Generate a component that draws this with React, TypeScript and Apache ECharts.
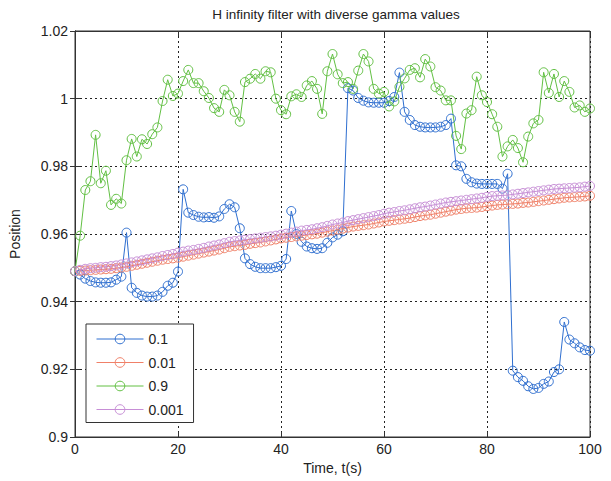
import React, { useEffect, useRef } from "react";
import * as echarts from "echarts";

const chartTitle = "H infinity filter with diverse gamma values";
const xName = "Time, t(s)";
const yName = "Position";
const seriesNames = ["0.1", "0.01", "0.9", "0.001"];
const seriesColors = ["#2f6fd0", "#f08068", "#62c043", "#c78ed6"];

const gamma01 = [
  0.9490, 0.9480, 0.9468, 0.9461, 0.9457, 0.9456, 0.9456, 0.9457, 0.9465, 0.9474, 0.9604,
  0.9441, 0.9426, 0.9418, 0.9415, 0.9415, 0.9418, 0.9429, 0.9447, 0.9456, 0.9489,
  0.9732, 0.9663, 0.9656, 0.9651, 0.9649, 0.9650, 0.9648, 0.9652, 0.9674, 0.9688,
  0.9679, 0.9617, 0.9528, 0.9511, 0.9503, 0.9499, 0.9499, 0.9499, 0.9502, 0.9506,
  0.9526, 0.9668, 0.9600, 0.9577, 0.9563, 0.9558, 0.9556, 0.9558, 0.9574, 0.9590,
  0.9598, 0.9608, 1.0031, 1.0024, 1.0002, 0.9994, 0.9989, 0.9988, 0.9988, 0.9988,
  0.9993, 1.0005, 1.0077, 0.9961, 0.9937, 0.9922, 0.9917, 0.9915, 0.9915, 0.9915,
  0.9917, 0.9922, 0.9941, 0.9803, 0.9800, 0.9763, 0.9753, 0.9749, 0.9748, 0.9748,
  0.9748, 0.9748, 0.9734, 0.9778, 0.9196, 0.9177, 0.9166, 0.9150, 0.9142, 0.9145,
  0.9157, 0.9164, 0.9192, 0.9200, 0.9340, 0.9288, 0.9277, 0.9265, 0.9257, 0.9255,
];

const gamma001 = [
  0.9490, 0.9491, 0.9492, 0.9493, 0.9494, 0.9495, 0.9496, 0.9497, 0.9499, 0.9501, 0.9503,
  0.9506, 0.9509, 0.9512, 0.9515, 0.9518, 0.9521, 0.9524, 0.9526, 0.9528, 0.9530,
  0.9533, 0.9536, 0.9539, 0.9542, 0.9545, 0.9548, 0.9551, 0.9554, 0.9558, 0.9562,
  0.9564, 0.9566, 0.9568, 0.9571, 0.9573, 0.9575, 0.9578, 0.9581, 0.9584, 0.9587,
  0.9589, 0.9591, 0.9593, 0.9595, 0.9597, 0.9599, 0.9601, 0.9604, 0.9607, 0.9610,
  0.9613, 0.9616, 0.9619, 0.9622, 0.9624, 0.9626, 0.9628, 0.9631, 0.9634, 0.9637,
  0.9639, 0.9641, 0.9643, 0.9645, 0.9647, 0.9650, 0.9653, 0.9655, 0.9657, 0.9660,
  0.9663, 0.9666, 0.9669, 0.9672, 0.9674, 0.9676, 0.9677, 0.9678, 0.9680, 0.9682,
  0.9684, 0.9686, 0.9687, 0.9688, 0.9689, 0.9690, 0.9692, 0.9693, 0.9695, 0.9697,
  0.9699, 0.9701, 0.9703, 0.9705, 0.9707, 0.9708, 0.9709, 0.9710, 0.9711, 0.9713,
];

const gamma09 = [
  0.9490, 0.9595, 0.9730, 0.9756, 0.9893, 0.9750, 0.9787, 0.9686, 0.9704, 0.9690, 0.9818,
  0.9881, 0.9829, 0.9880, 0.9866, 0.9895, 0.9915, 0.9993, 1.0056, 1.0008, 1.0015,
  1.0052, 1.0085, 1.0046, 1.0046, 1.0022, 1.0002, 0.9972, 0.9961, 1.0026, 1.0010,
  0.9961, 0.9932, 1.0049, 1.0059, 1.0073, 1.0059, 1.0081, 1.0078, 1.0000, 0.9966,
  0.9954, 1.0007, 1.0013, 1.0005, 1.0039, 1.0052, 1.0029, 0.9955, 1.0081, 1.0132,
  1.0072, 1.0046, 1.0049, 1.0029, 1.0083, 1.0132, 1.0110, 1.0029, 1.0015, 1.0020,
  0.9977, 0.9992, 1.0035, 1.0060, 1.0085, 1.0090, 1.0063, 1.0117, 1.0095, 1.0034,
  1.0024, 0.9995, 0.9995, 0.9890, 0.9851, 0.9956, 0.9966, 1.0065, 1.0010, 0.9990,
  0.9954, 0.9917, 0.9829, 0.9859, 0.9878, 0.9854, 0.9812, 0.9888, 0.9927, 0.9937,
  1.0078, 1.0017, 1.0073, 1.0005, 1.0052, 1.0020, 0.9974, 0.9980, 0.9961, 0.9971,
];

const gamma0001 = [
  0.9490, 0.9494, 0.9497, 0.9499, 0.9500, 0.9502, 0.9503, 0.9505, 0.9507, 0.9510, 0.9513,
  0.9516, 0.9519, 0.9522, 0.9525, 0.9528, 0.9531, 0.9535, 0.9538, 0.9541, 0.9545,
  0.9548, 0.9551, 0.9553, 0.9556, 0.9559, 0.9563, 0.9566, 0.9569, 0.9573, 0.9577,
  0.9579, 0.9581, 0.9583, 0.9585, 0.9587, 0.9589, 0.9591, 0.9593, 0.9595, 0.9598,
  0.9601, 0.9604, 0.9607, 0.9610, 0.9612, 0.9614, 0.9617, 0.9620, 0.9624, 0.9628,
  0.9631, 0.9634, 0.9638, 0.9641, 0.9644, 0.9647, 0.9650, 0.9653, 0.9656, 0.9660,
  0.9663, 0.9665, 0.9668, 0.9670, 0.9673, 0.9676, 0.9679, 0.9681, 0.9684, 0.9687,
  0.9690, 0.9693, 0.9695, 0.9697, 0.9699, 0.9701, 0.9703, 0.9705, 0.9707, 0.9710,
  0.9712, 0.9713, 0.9714, 0.9715, 0.9717, 0.9719, 0.9721, 0.9723, 0.9725, 0.9727,
  0.9729, 0.9731, 0.9733, 0.9734, 0.9735, 0.9736, 0.9737, 0.9738, 0.9740, 0.9742,
];

const xMin = 0;
const xMax = 100;
const xStep = 20;
const yMin = 0.9;
const yMax = 1.02;
const yStep = 0.02;

const FONT = "'Liberation Sans', Arial, sans-serif";
const AXIS_COLOR = "#333";

export default function App() {
  const ref = useRef<HTMLDivElement>(null);

  useEffect(() => {
    if (!ref.current) return;
    const chart = echarts.init(ref.current, null, { renderer: "svg" });
    const allData = [gamma01, gamma001, gamma09, gamma0001];

    const gridLine = {
      show: true,
      lineStyle: { color: "#222", width: 1, type: [2, 3] as any },
    };

    const fmtY = (v: number) => String(Number(v.toFixed(2)));

    chart.setOption({
      animation: false,
      backgroundColor: "#ffffff",
      title: {
        text: chartTitle,
        left: 331,
        textAlign: "center",
        top: 2,
        textStyle: { fontFamily: FONT, fontSize: 13.5, fontWeight: "normal", color: "#222" },
      },
      legend: {
        orient: "vertical",
        left: 86,
        top: 324,
        data: seriesNames,
        itemWidth: 47,
        itemHeight: 12,
        itemGap: 9.5,
        padding: [8, 10, 6, 10],
        borderColor: "#333",
        borderWidth: 1,
        backgroundColor: "#fff",
        lineStyle: { width: 1 },
        itemStyle: { borderWidth: 1 },
        textStyle: { fontFamily: FONT, fontSize: 14, color: "#222" },
      },
      grid: {
        left: 73,
        right: 21,
        top: 31,
        bottom: 44,
        show: true,
        borderColor: AXIS_COLOR,
        borderWidth: 1,
        backgroundColor: "#fff",
      },
      xAxis: [
        {
          type: "value",
          min: xMin,
          max: xMax,
          interval: xStep,
          name: xName,
          nameLocation: "middle",
          nameGap: 24,
          nameTextStyle: { fontFamily: FONT, fontSize: 14, color: "#222" },
          axisLine: { show: true, lineStyle: { color: AXIS_COLOR } },
          axisTick: { show: true, inside: true, length: 5, lineStyle: { color: AXIS_COLOR } },
          axisLabel: { fontFamily: FONT, fontSize: 14, color: "#222", margin: 5 },
          splitLine: gridLine,
        },
        {
          type: "value",
          position: "top",
          min: xMin,
          max: xMax,
          interval: xStep,
          axisLine: { show: true, lineStyle: { color: AXIS_COLOR } },
          axisTick: { show: true, inside: true, length: 5, lineStyle: { color: AXIS_COLOR } },
          axisLabel: { show: false },
          splitLine: { show: false },
        },
      ],
      yAxis: [
        {
          type: "value",
          min: yMin,
          max: yMax,
          interval: yStep,
          name: yName,
          nameLocation: "middle",
          nameGap: 53,
          nameTextStyle: { fontFamily: FONT, fontSize: 14, color: "#222" },
          axisLine: { show: true, lineStyle: { color: AXIS_COLOR } },
          axisTick: { show: true, inside: true, length: 5, lineStyle: { color: AXIS_COLOR } },
          axisLabel: { fontFamily: FONT, fontSize: 14, color: "#222", margin: 7, formatter: fmtY },
          splitLine: gridLine,
        },
        {
          type: "value",
          position: "right",
          min: yMin,
          max: yMax,
          interval: yStep,
          axisLine: { show: true, lineStyle: { color: AXIS_COLOR } },
          axisTick: { show: true, inside: true, length: 5, lineStyle: { color: AXIS_COLOR } },
          axisLabel: { show: false },
          splitLine: { show: false },
        },
      ],
      series: seriesNames.map((name, k) => ({
        name,
        type: "line",
        xAxisIndex: 0,
        yAxisIndex: 0,
        data: allData[k].map((v, i) => [i, v]),
        symbol: "circle",
        symbolSize: 9,
        showAllSymbol: true,
        clip: false,
        color: seriesColors[k],
        lineStyle: { color: seriesColors[k], width: 1 },
        itemStyle: { color: "rgba(255,255,255,0)", borderColor: seriesColors[k], borderWidth: 1 },
      })),
    });

    return () => chart.dispose();
  }, []);

  return (
    <div
      ref={ref}
      style={{ position: "fixed", left: 0, top: 0, width: 611, height: 481, background: "#fff" }}
    />
  );
}
